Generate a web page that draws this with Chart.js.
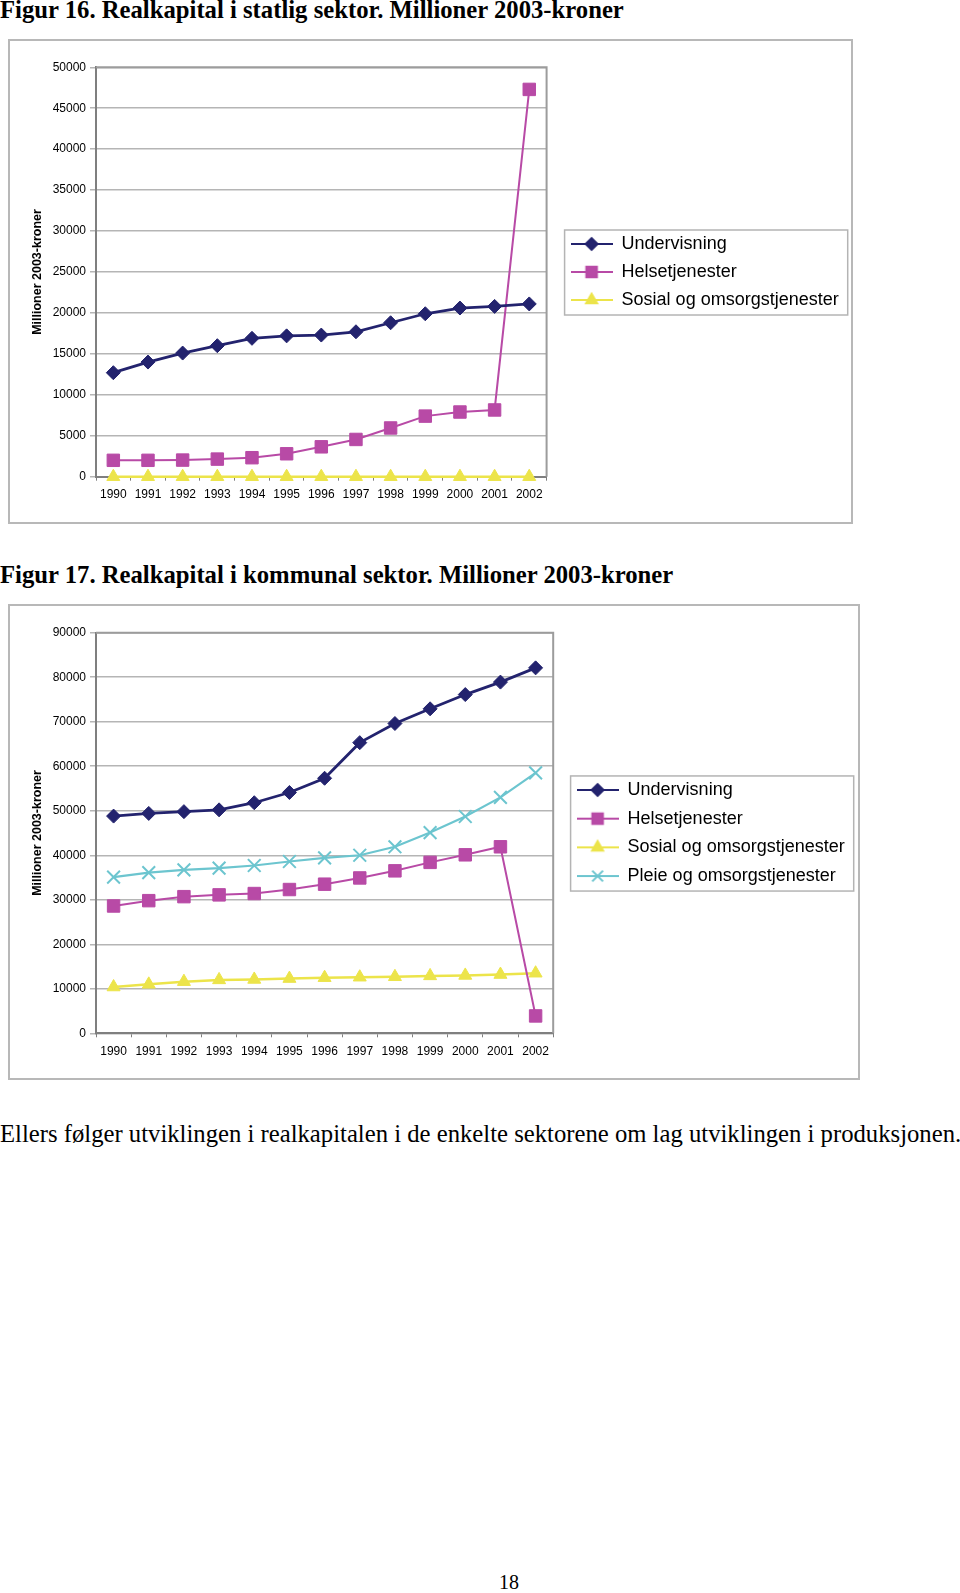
<!DOCTYPE html>
<html>
<head>
<meta charset="utf-8">
<script src="https://cdn.jsdelivr.net/npm/chart.js@4/dist/chart.umd.min.js"></script>
<style>
  html, body { margin: 0; padding: 0; background: #fff; }
  body { position: relative; width: 960px; height: 1593px; overflow: hidden; font-family: "Liberation Serif", "Times New Roman", serif; color: #000; }
  .fig-title { position: absolute; left: 0; font-weight: bold; font-size: 24.7px; line-height: 1; white-space: nowrap; }
  .box { position: absolute; border: 2px solid #b8b8b8; box-sizing: border-box; }
  .box canvas { display: block; }
  .para { position: absolute; left: 0; font-size: 24.7px; line-height: 1; white-space: nowrap; }
  .pagenr { position: absolute; left: 489px; width: 40px; text-align: center; font-size: 20px; line-height: 1; }
</style>
</head>
<body>

<div class="fig-title" style="top:-2px">Figur 16. Realkapital i statlig sektor. Millioner 2003-kroner</div>
<div class="box" style="left:8px; top:39px; width:845px; height:485px">
  <canvas id="fig16" width="841" height="481"></canvas>
</div>

<div class="fig-title" style="top:563px">Figur 17. Realkapital i kommunal sektor. Millioner 2003-kroner</div>
<div class="box" style="left:8px; top:604px; width:852px; height:476px">
  <canvas id="fig17" width="848" height="472"></canvas>
</div>

<div class="para" style="top:1122px">Ellers følger utviklingen i realkapitalen i de enkelte sektorene om lag utviklingen i produksjonen.</div>
<div class="pagenr" style="top:1572px">18</div>

<script>
// years on the x axis
const years = ['1990', '1991', '1992', '1993', '1994', '1995', '1996', '1997', '1998', '1999', '2000', '2001', '2002'];

// Figur 16 - statlig sektor (mill. 2003-kroner)
const statUndervisning = [12700, 14000, 15100, 16000, 16900, 17200, 17300, 17700, 18800, 19900, 20600, 20800, 21100];
const statHelse = [2000, 2000, 2030, 2150, 2320, 2800, 3650, 4550, 5950, 7400, 7900, 8150, 47300];
const statSosial = [0, 0, 0, 0, 0, 0, 0, 0, 0, 0, 0, 0, 0];

// Figur 17 - kommunal sektor (mill. 2003-kroner)
const kommUndervisning = [48800, 49400, 49800, 50200, 51800, 54100, 57300, 65300, 69600, 72900, 76100, 78900, 82100];
const kommHelse = [28600, 29800, 30700, 31100, 31400, 32300, 33500, 34900, 36500, 38400, 40100, 41900, 3900];
const kommSosial = [10400, 11000, 11600, 12000, 12100, 12300, 12500, 12600, 12700, 12900, 13000, 13200, 13500];
const kommPleie = [35100, 36100, 36700, 37100, 37700, 38600, 39400, 40000, 41900, 45100, 48700, 53000, 58500];

// y tick settings
const statMax = 50000, statStep = 5000;
const kommMax = 90000, kommStep = 10000;

Chart.defaults.font.family = '"Liberation Sans", Arial, sans-serif';
Chart.defaults.color = '#000';

const navy = '#23236e';
const magenta = '#b84aa6';
const yellow = '#ece44a';
const cyan = '#6cc5cf';

const seriesStyle = {
  Undervisning: { color: navy, style: 'rectRot', radius: 7, width: 2.8 },
  Helsetjenester: { color: magenta, style: 'rect', radius: 8.8, width: 2 },
  'Sosial og omsorgstjenester': { color: yellow, style: 'triangle', radius: 7.5, width: 2.5 },
  'Pleie og omsorgstjenester': { color: cyan, style: 'crossRot', radius: 9, width: 2.2 }
};

// little picture for the legend: line with the marker in the middle
function legendIcon(name) {
  const s = seriesStyle[name];
  const c = document.createElement('canvas');
  c.width = 42; c.height = 20;
  const ctx = c.getContext('2d');
  ctx.strokeStyle = s.color;
  ctx.fillStyle = s.color;
  ctx.lineWidth = 2;
  ctx.beginPath(); ctx.moveTo(0, 10); ctx.lineTo(42, 10); ctx.stroke();
  Chart.helpers.drawPoint(ctx, { pointStyle: s.style, radius: s.radius * 0.85, rotation: 0, borderWidth: s.style === 'crossRot' ? 2 : 1 }, 21, 10);
  return c;
}

function makeDataset(name, values) {
  const s = seriesStyle[name];
  return {
    label: name,
    data: values,
    borderColor: s.color,
    backgroundColor: s.color,
    borderWidth: s.width,
    pointStyle: s.style,
    pointRadius: s.radius,
    pointBorderWidth: s.style === 'crossRot' ? 2 : 1,
    pointBackgroundColor: s.color,
    pointBorderColor: s.color,
    tension: 0,
    clip: false
  };
}

const plotFrame = {
  id: 'plotFrame',
  beforeDatasetsDraw(chart) {
    const { ctx, chartArea: a } = chart;
    ctx.save();
    ctx.strokeStyle = '#9c9c9c';
    ctx.lineWidth = 2;
    ctx.beginPath();
    ctx.moveTo(a.left, a.top); ctx.lineTo(a.right, a.top); ctx.lineTo(a.right, a.bottom);
    ctx.stroke();
    ctx.restore();
  }
};

const legendFrame = {
  id: 'legendFrame',
  afterDraw(chart) {
    const boxes = chart.legend.legendHitBoxes;
    if (!boxes || !boxes.length) return;
    const first = boxes[0], last = boxes[boxes.length - 1];
    const left = first.left - 6;
    const right = Math.max(...boxes.map(b => b.left + b.width)) + 9;
    const top = first.top + first.height / 2 - 14;
    const bottom = last.top + last.height / 2 + 15;
    const ctx = chart.ctx;
    ctx.save();
    ctx.strokeStyle = '#b4b4b4';
    ctx.lineWidth = 1.5;
    ctx.strokeRect(left, top, right - left, bottom - top);
    ctx.restore();
  }
};

function buildChart(id, datasets, yMax, yStep, lay) {
  return new Chart(document.getElementById(id), {
    type: 'line',
    data: { labels: years, datasets: datasets },
    plugins: [plotFrame, legendFrame],
    options: {
      responsive: false,
      animation: false,
      layout: { padding: { top: lay.top, left: 0, right: lay.right, bottom: 0 } },
      plugins: {
        tooltip: { enabled: false },
        legend: {
          position: 'right',
          fullSize: false,
          align: 'center',
          maxWidth: 400,
          labels: {
            font: { size: 18 },
            color: '#000',
            usePointStyle: true,
            pointStyleWidth: 42,
            padding: lay.legendPad,
            generateLabels(chart) {
              const items = Chart.defaults.plugins.legend.labels.generateLabels(chart);
              items.forEach(it => { it.pointStyle = legendIcon(it.text); });
              return items;
            }
          }
        }
      },
      scales: {
        x: {
          offset: true,
          grid: { display: true, drawOnChartArea: false, drawTicks: true, tickLength: 4, color: '#7f7f7f', offset: true },
          border: { display: true, color: '#7f7f7f', width: 2 },
          ticks: { font: { size: 12 }, padding: 7, maxRotation: 0, autoSkip: false },
          afterFit(s) { s.height = lay.xHeight; }
        },
        y: {
          min: 0,
          max: yMax,
          grid: { color: '#b5b5b5', lineWidth: 1.5, tickLength: 6, drawTicks: true },
          border: { display: true, color: '#7f7f7f', width: 2 },
          ticks: { stepSize: yStep, font: { size: 12 }, padding: 4, callback: v => String(v) },
          title: { display: true, text: 'Millioner 2003-kroner', font: { size: 12.5, weight: 'bold' }, padding: { top: 20, bottom: 0 } },
          afterFit(s) { s.width = 86; }
        },
        gap: {
          type: 'linear',
          position: 'right',
          display: true,
          grid: { display: false },
          border: { display: false },
          ticks: { display: false },
          afterFit(s) { s.width = lay.gap; }
        }
      }
    }
  });
}

buildChart('fig16', [
  makeDataset('Undervisning', statUndervisning),
  makeDataset('Helsetjenester', statHelse),
  makeDataset('Sosial og omsorgstjenester', statSosial)
], statMax, statStep, { top: 26.3, right: 2.3, xHeight: 45.3, gap: 14, legendPad: 10 });

buildChart('fig17', [
  makeDataset('Undervisning', kommUndervisning),
  makeDataset('Helsetjenester', kommHelse),
  makeDataset('Sosial og omsorgstjenester', kommSosial),
  makeDataset('Pleie og omsorgstjenester', kommPleie)
], kommMax, kommStep, { top: 26.7, right: 3.3, xHeight: 44.7, gap: 12.7, legendPad: 10.7 });
</script>
</body>
</html>
